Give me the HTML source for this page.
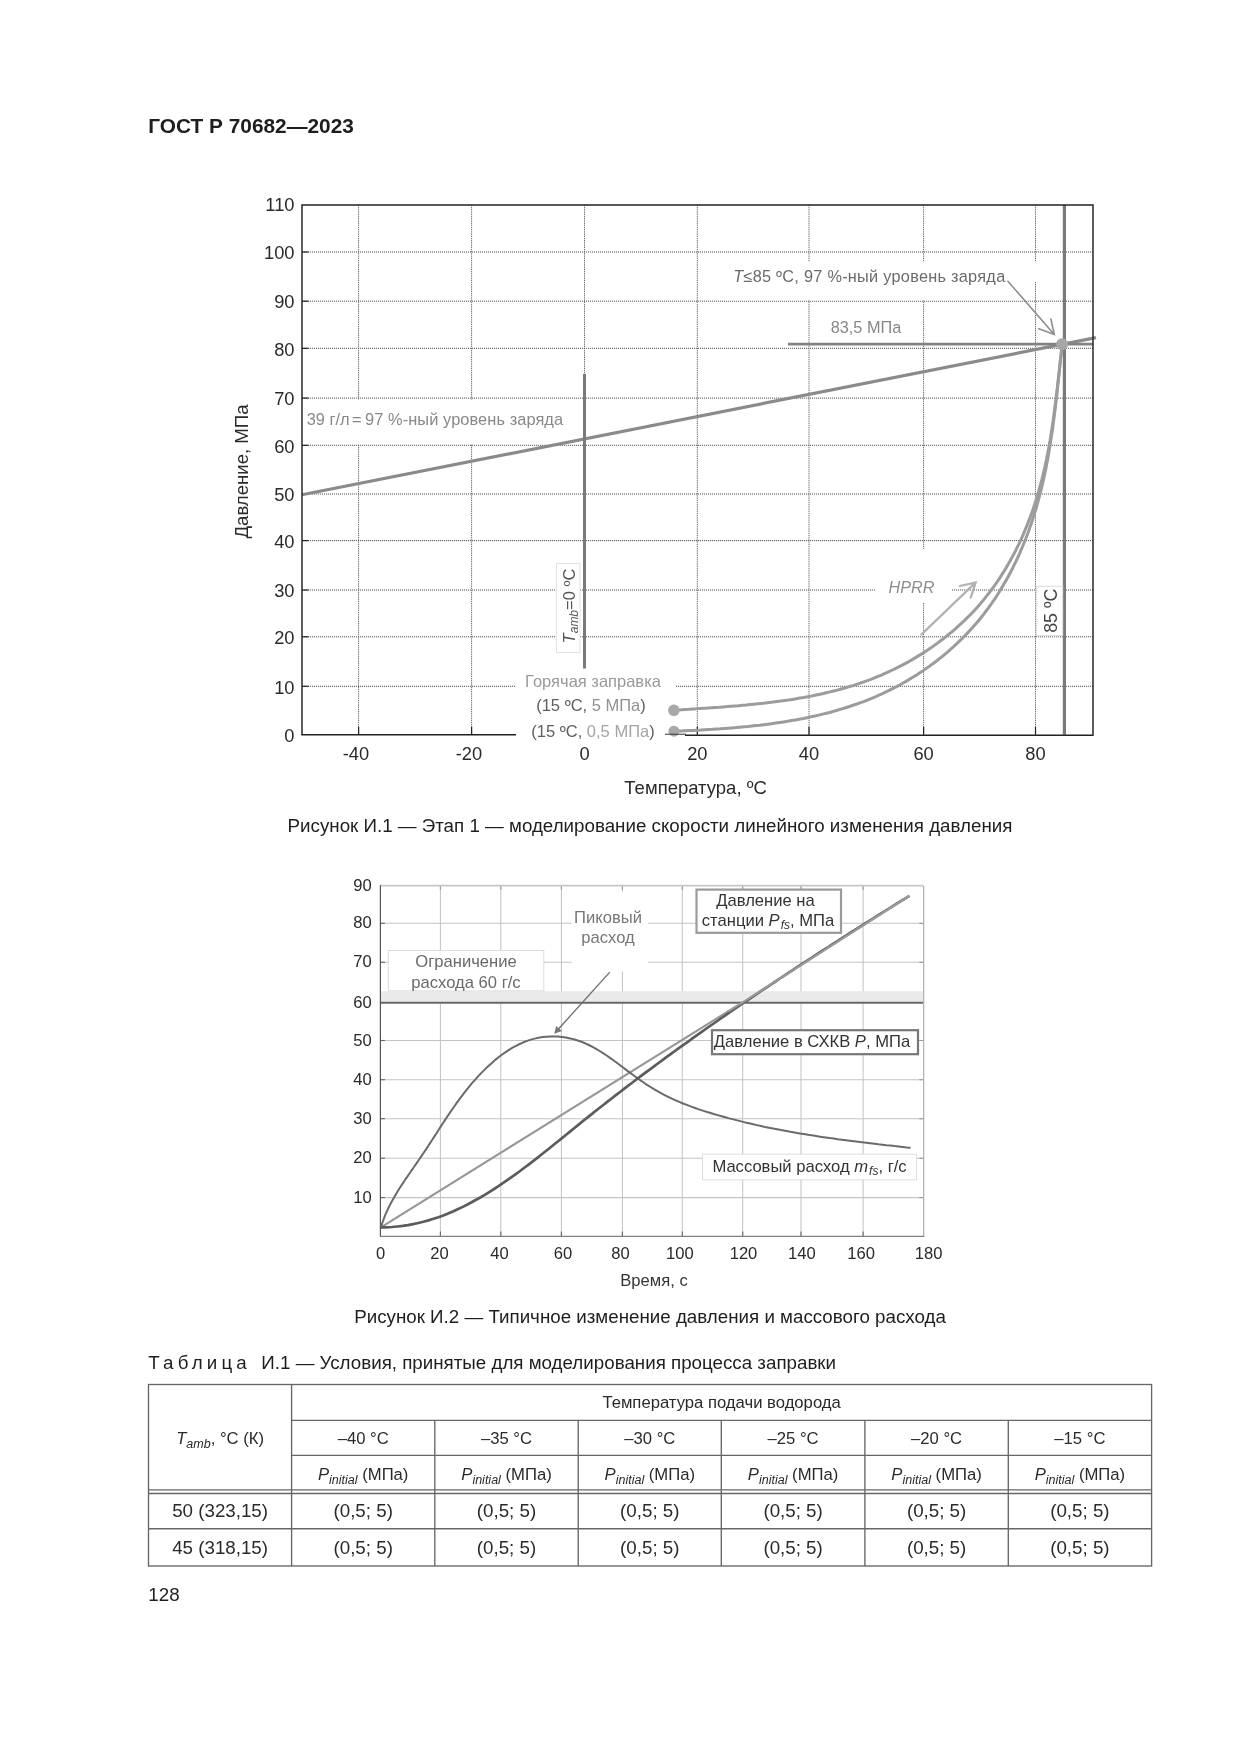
<!DOCTYPE html>
<html lang="ru">
<head>
<meta charset="utf-8">
<title>ГОСТ Р 70682—2023</title>
<style>
html,body{margin:0;padding:0;background:#fff;}
body{width:1241px;height:1754px;overflow:hidden;font-family:"Liberation Sans",sans-serif;}
svg{display:block;filter:grayscale(1);}
text{white-space:pre;}
</style>
</head>
<body>
<svg width="1241" height="1754" viewBox="0 0 1241 1754">
<rect width="1241" height="1754" fill="#fff"/>
<g id="chart1">
<g stroke="#505050" stroke-width="1" stroke-dasharray="1.1,0.9" fill="none">
<line x1="302.0" y1="252.0" x2="1093.0" y2="252.0"/>
<line x1="302.0" y1="301.2" x2="1093.0" y2="301.2"/>
<line x1="302.0" y1="348.3" x2="1093.0" y2="348.3"/>
<line x1="302.0" y1="398.1" x2="1093.0" y2="398.1"/>
<line x1="302.0" y1="445.3" x2="1093.0" y2="445.3"/>
<line x1="302.0" y1="494.0" x2="1093.0" y2="494.0"/>
<line x1="302.0" y1="540.6" x2="1093.0" y2="540.6"/>
<line x1="302.0" y1="590.0" x2="1093.0" y2="590.0"/>
<line x1="302.0" y1="636.8" x2="1093.0" y2="636.8"/>
<line x1="302.0" y1="686.3" x2="1093.0" y2="686.3"/>
</g>
<g stroke="#666" stroke-width="1" stroke-dasharray="1.3,0.9" fill="none">
<line x1="358.6" y1="204.9" x2="358.6" y2="734.8"/>
<line x1="471.6" y1="204.9" x2="471.6" y2="734.8"/>
<line x1="584.5" y1="204.9" x2="584.5" y2="734.8"/>
<line x1="697.3" y1="204.9" x2="697.3" y2="734.8"/>
<line x1="809.0" y1="204.9" x2="809.0" y2="734.8"/>
<line x1="923.6" y1="204.9" x2="923.6" y2="734.8"/>
<line x1="1035.5" y1="204.9" x2="1035.5" y2="734.8"/>
</g>
<g fill="#fff">
<rect x="725" y="262" width="305" height="38.3"/>
<rect x="1029" y="262" width="11" height="19.5"/>
<rect x="303.5" y="399.6" width="264" height="44.4"/>
<rect x="876" y="549" width="76" height="54"/>
<rect x="516" y="668" width="150" height="74"/>
<rect x="516" y="676" width="160" height="20"/>
</g>
<g stroke="#222" stroke-width="1.2">
<line x1="302.0" y1="252.0" x2="308.5" y2="252.0"/>
<line x1="302.0" y1="301.2" x2="308.5" y2="301.2"/>
<line x1="302.0" y1="348.3" x2="308.5" y2="348.3"/>
<line x1="302.0" y1="398.1" x2="308.5" y2="398.1"/>
<line x1="302.0" y1="445.3" x2="308.5" y2="445.3"/>
<line x1="302.0" y1="494.0" x2="308.5" y2="494.0"/>
<line x1="302.0" y1="540.6" x2="308.5" y2="540.6"/>
<line x1="302.0" y1="590.0" x2="308.5" y2="590.0"/>
<line x1="302.0" y1="636.8" x2="308.5" y2="636.8"/>
<line x1="302.0" y1="686.3" x2="308.5" y2="686.3"/>
<line x1="358.6" y1="734.8" x2="358.6" y2="726.8"/>
<line x1="471.6" y1="734.8" x2="471.6" y2="726.8"/>
<line x1="697.3" y1="734.8" x2="697.3" y2="726.8"/>
<line x1="809.0" y1="734.8" x2="809.0" y2="726.8"/>
<line x1="923.6" y1="734.8" x2="923.6" y2="726.8"/>
<line x1="1035.5" y1="734.8" x2="1035.5" y2="726.8"/>
</g>
<line x1="302" y1="494.8" x2="1096" y2="337.6" stroke="#8a8a8a" stroke-width="3.2"/>
<line x1="788" y1="344.1" x2="1093" y2="344.1" stroke="#828282" stroke-width="2.7"/>
<line x1="584.5" y1="374" x2="584.5" y2="668.5" stroke="#7a7a7a" stroke-width="3"/>
<line x1="1064.4" y1="204.9" x2="1064.4" y2="734.8" stroke="#7a7a7a" stroke-width="3.2"/>
<path d="M673.9,710.3 L677.7,710.0 L681.4,709.8 L685.2,709.5 L689.0,709.3 L692.7,709.0 L696.5,708.8 L700.3,708.5 L704.1,708.2 L708.0,708.0 L711.8,707.7 L715.6,707.4 L719.4,707.2 L723.2,706.9 L727.1,706.6 L730.9,706.3 L734.8,706.0 L738.6,705.7 L742.4,705.3 L746.3,705.0 L750.1,704.6 L754.0,704.2 L757.8,703.8 L761.6,703.4 L765.5,703.0 L769.3,702.5 L773.2,702.1 L777.0,701.6 L780.8,701.1 L784.6,700.5 L788.5,700.0 L792.3,699.4 L796.1,698.8 L799.9,698.1 L803.7,697.5 L807.5,696.8 L811.2,696.1 L815.0,695.3 L818.8,694.5 L822.5,693.7 L826.3,692.8 L830.0,691.9 L833.7,691.0 L837.4,690.1 L841.1,689.0 L844.8,688.0 L848.5,686.9 L852.2,685.8 L855.8,684.6 L859.5,683.4 L863.1,682.2 L866.7,680.9 L870.3,679.6 L873.8,678.2 L877.4,676.7 L880.9,675.3 L884.4,673.7 L887.9,672.2 L891.4,670.5 L894.9,668.9 L898.3,667.2 L901.7,665.4 L905.1,663.6 L908.5,661.8 L911.8,659.9 L915.1,657.9 L918.4,655.9 L921.7,653.9 L924.9,651.8 L928.1,649.7 L931.3,647.6 L934.4,645.4 L937.5,643.1 L940.6,640.8 L943.6,638.5 L946.6,636.1 L949.6,633.7 L952.5,631.3 L955.4,628.8 L958.3,626.2 L961.1,623.7 L963.9,621.0 L966.6,618.4 L969.3,615.7 L972.0,613.0 L974.6,610.2 L977.1,607.4 L979.7,604.5 L982.1,601.6 L984.6,598.7 L986.9,595.7 L989.3,592.7 L991.6,589.6 L993.8,586.6 L996.0,583.5 L998.2,580.3 L1000.3,577.1 L1002.3,573.9 L1004.4,570.7 L1006.3,567.4 L1008.3,564.1 L1010.2,560.8 L1012.0,557.4 L1013.8,554.1 L1015.6,550.7 L1017.3,547.2 L1019.0,543.8 L1020.6,540.3 L1022.2,536.8 L1023.7,533.3 L1025.2,529.7 L1026.7,526.2 L1028.1,522.6 L1029.5,519.0 L1030.9,515.4 L1032.2,511.8 L1033.4,508.1 L1034.6,504.5 L1035.8,500.8 L1037.0,497.1 L1038.1,493.4 L1039.1,489.7 L1040.1,486.0 L1041.1,482.3 L1042.1,478.6 L1043.0,474.8 L1043.9,471.1 L1044.8,467.3 L1045.6,463.5 L1046.4,459.8 L1047.1,456.0 L1047.9,452.2 L1048.6,448.4 L1049.3,444.6 L1050.0,440.8 L1050.6,437.0 L1051.2,433.2 L1051.8,429.4 L1052.4,425.6 L1053.0,421.8 L1053.5,418.0 L1054.0,414.2 L1054.5,410.3 L1055.0,406.5 L1055.5,402.7 L1056.0,398.9 L1056.5,395.1 L1056.9,391.3 L1057.4,387.5 L1057.8,383.7 L1058.2,379.9 L1058.7,376.1 L1059.1,372.3 L1059.5,368.5 L1059.9,364.8 L1060.3,361.0 L1060.7,357.2 L1061.2,353.5 L1061.6,349.7 L1062.0,346.0" fill="none" stroke="#9c9c9c" stroke-width="3" stroke-linejoin="round"/>
<path d="M673.9,731.2 L677.7,731.0 L681.5,730.9 L685.3,730.7 L689.2,730.5 L693.0,730.4 L696.9,730.2 L700.8,730.0 L704.7,729.7 L708.6,729.5 L712.5,729.3 L716.4,729.0 L720.3,728.8 L724.3,728.5 L728.2,728.2 L732.1,727.9 L736.1,727.6 L740.0,727.2 L744.0,726.8 L747.9,726.5 L751.9,726.0 L755.9,725.6 L759.8,725.2 L763.8,724.7 L767.8,724.2 L771.7,723.7 L775.7,723.1 L779.6,722.5 L783.6,721.9 L787.5,721.3 L791.4,720.6 L795.4,719.9 L799.3,719.2 L803.2,718.5 L807.1,717.7 L811.0,716.8 L814.9,716.0 L818.8,715.1 L822.7,714.1 L826.5,713.2 L830.4,712.2 L834.2,711.1 L838.0,710.0 L841.8,708.9 L845.6,707.7 L849.4,706.5 L853.1,705.3 L856.9,704.0 L860.6,702.6 L864.3,701.3 L868.0,699.8 L871.6,698.3 L875.3,696.8 L878.9,695.2 L882.5,693.6 L886.0,691.9 L889.6,690.2 L893.1,688.4 L896.6,686.6 L900.1,684.7 L903.5,682.8 L906.9,680.9 L910.3,678.8 L913.6,676.8 L917.0,674.7 L920.2,672.6 L923.5,670.4 L926.7,668.1 L929.9,665.9 L933.1,663.5 L936.2,661.2 L939.3,658.8 L942.4,656.3 L945.4,653.8 L948.4,651.3 L951.3,648.7 L954.2,646.1 L957.1,643.4 L959.9,640.7 L962.7,638.0 L965.4,635.2 L968.1,632.4 L970.8,629.5 L973.4,626.6 L975.9,623.7 L978.5,620.7 L980.9,617.7 L983.4,614.6 L985.7,611.5 L988.1,608.4 L990.4,605.2 L992.6,602.0 L994.8,598.8 L997.0,595.5 L999.1,592.2 L1001.1,588.9 L1003.1,585.5 L1005.1,582.1 L1007.0,578.7 L1008.9,575.2 L1010.8,571.7 L1012.6,568.2 L1014.3,564.7 L1016.1,561.1 L1017.7,557.6 L1019.4,554.0 L1020.9,550.3 L1022.5,546.7 L1024.0,543.0 L1025.5,539.4 L1026.9,535.7 L1028.3,531.9 L1029.6,528.2 L1030.9,524.5 L1032.2,520.7 L1033.4,516.9 L1034.6,513.1 L1035.8,509.3 L1036.9,505.5 L1038.0,501.7 L1039.0,497.9 L1040.0,494.0 L1041.0,490.2 L1041.9,486.3 L1042.9,482.5 L1043.7,478.6 L1044.6,474.7 L1045.4,470.8 L1046.2,466.9 L1046.9,463.1 L1047.7,459.2 L1048.4,455.3 L1049.0,451.3 L1049.7,447.4 L1050.3,443.5 L1050.9,439.6 L1051.5,435.7 L1052.1,431.8 L1052.7,427.9 L1053.2,423.9 L1053.7,420.0 L1054.2,416.1 L1054.7,412.2 L1055.2,408.3 L1055.7,404.3 L1056.1,400.4 L1056.6,396.5 L1057.0,392.6 L1057.4,388.7 L1057.9,384.8 L1058.3,380.9 L1058.7,377.0 L1059.1,373.1 L1059.5,369.2 L1059.9,365.3 L1060.3,361.4 L1060.8,357.6 L1061.2,353.7 L1061.6,349.8 L1062.0,346.0" fill="none" stroke="#9c9c9c" stroke-width="3" stroke-linejoin="round"/>
<circle cx="673.9" cy="710.3" r="5.8" fill="#a8a8a8"/>
<circle cx="673.9" cy="731.2" r="5.5" fill="#a8a8a8"/>
<circle cx="1062.1" cy="344.2" r="6" fill="#a6a6a6"/>
<line x1="665" y1="734.2" x2="686" y2="734.2" stroke="#333" stroke-width="1"/>
<path d="M302.0,734.8 V204.9 H1093.0 V734.8" fill="none" stroke="#222" stroke-width="1.45"/>
<path d="M301.3,734.8 H516 M685,735.1999999999999 H1093.7" fill="none" stroke="#222" stroke-width="1.45"/>
<g stroke="#8e8e8e" stroke-width="1.6" fill="none" stroke-linecap="round">
<path d="M1007.9,281.3 L1054.3,334.5 M1038.8,328.7 L1054.3,334.5 L1050.9,319"/>
</g>
<g stroke="#b2b2b2" stroke-width="2.2" fill="none" stroke-linecap="round">
<path d="M921.3,634.6 L975.7,582.4 M959.8,586 L975.7,582.4 L970.7,597.6"/>
</g>
<rect x="556.5" y="563.5" width="23.5" height="89" fill="#fff" stroke="#e2e2e2" stroke-width="1"/>
<rect x="1036.2" y="586.3" width="26.5" height="49.4" fill="#fff" stroke="#dadada" stroke-width="1"/>
<g style="font-family:'Liberation Sans',sans-serif" fill="#2a2a2a" font-size="18.3">
<text x="294.5" y="259.2" text-anchor="end">100</text>
<text x="294.5" y="308.4" text-anchor="end">90</text>
<text x="294.5" y="355.5" text-anchor="end">80</text>
<text x="294.5" y="405.3" text-anchor="end">70</text>
<text x="294.5" y="452.5" text-anchor="end">60</text>
<text x="294.5" y="501.2" text-anchor="end">50</text>
<text x="294.5" y="547.8" text-anchor="end">40</text>
<text x="294.5" y="597.2" text-anchor="end">30</text>
<text x="294.5" y="644.0" text-anchor="end">20</text>
<text x="294.5" y="693.5" text-anchor="end">10</text>
<text x="294.5" y="210.9" text-anchor="end">110</text>
<text x="294.5" y="742.0" text-anchor="end">0</text>
<text x="369.2" y="760" text-anchor="end">-40</text>
<text x="482.2" y="760" text-anchor="end">-20</text>
<text x="584.5" y="760" text-anchor="middle">0</text>
<text x="697.3" y="760" text-anchor="middle">20</text>
<text x="809.0" y="760" text-anchor="middle">40</text>
<text x="923.6" y="760" text-anchor="middle">60</text>
<text x="1035.5" y="760" text-anchor="middle">80</text>
<text x="695.6" y="793.6" text-anchor="middle" font-size="18.5">Температура, ºC</text>
<text transform="translate(248.4,471.5) rotate(-90)" text-anchor="middle" font-size="18.6">Давление, МПа</text>
</g>
<g style="font-family:'Liberation Sans',sans-serif" font-size="16.3">
<text x="306.7" y="425.3" fill="#888" font-size="16.4">39 г/л<tspan dx="-2.2"> = </tspan><tspan dx="-1" letter-spacing="0.07">97 %-ный уровень заряда</tspan></text>
<text x="733.2" y="282" fill="#6a6a6a" textLength="272" lengthAdjust="spacing"><tspan font-style="italic">T</tspan>≤85 ºC, 97 %-ный уровень заряда</text>
<text x="866" y="333.2" fill="#888" text-anchor="middle">83,5 МПа</text>
<text x="593" y="686.7" fill="#9a9a9a" text-anchor="middle" font-size="16.5">Горячая заправка</text>
<text x="591" y="711.3" fill="#5e5e5e" text-anchor="middle" font-size="16.5">(15 ºC, <tspan fill="#919191">5 МПа</tspan>)</text>
<text x="593" y="736.8" fill="#5e5e5e" text-anchor="middle" font-size="16.5">(15 ºC, <tspan fill="#a4a4a4">0,5 МПа</tspan>)</text>
<text x="888.5" y="592.7" fill="#8c8c8c" font-style="italic" font-size="16.2">HPRR</text>
<text transform="translate(575,606) rotate(-90)" text-anchor="middle" fill="#555" font-size="16.5"><tspan font-style="italic">T</tspan><tspan font-style="italic" font-size="12" dy="3">amb</tspan><tspan dy="-3">=0 ºC</tspan></text>
<text transform="translate(1057,610.7) rotate(-90)" text-anchor="middle" fill="#444" font-size="18.4" textLength="44.3" lengthAdjust="spacingAndGlyphs">85 ºC</text>
</g>
</g>
<g id="chart2">
<g stroke="#c4c4c4" stroke-width="1.05" fill="none">
<line x1="380.0" y1="1197.6" x2="923.3" y2="1197.6"/>
<line x1="380.0" y1="1158.2" x2="923.3" y2="1158.2"/>
<line x1="380.0" y1="1118.7" x2="923.3" y2="1118.7"/>
<line x1="380.0" y1="1079.7" x2="923.3" y2="1079.7"/>
<line x1="380.0" y1="1040.5" x2="923.3" y2="1040.5"/>
<line x1="380.0" y1="1002.5" x2="923.3" y2="1002.5"/>
<line x1="380.0" y1="962.3" x2="923.3" y2="962.3"/>
<line x1="380.0" y1="923.3" x2="923.3" y2="923.3"/>
<line x1="440.4" y1="885.7" x2="440.4" y2="1236.4"/>
<line x1="500.8" y1="885.7" x2="500.8" y2="1236.4"/>
<line x1="561.4" y1="885.7" x2="561.4" y2="1236.4"/>
<line x1="622.4" y1="885.7" x2="622.4" y2="1236.4"/>
<line x1="682.3" y1="885.7" x2="682.3" y2="1236.4"/>
<line x1="742.7" y1="885.7" x2="742.7" y2="1236.4"/>
<line x1="801.0" y1="885.7" x2="801.0" y2="1236.4"/>
<line x1="863.1" y1="885.7" x2="863.1" y2="1236.4"/>
</g>
<g stroke="#666" stroke-width="1.1">
<line x1="380.0" y1="1197.6" x2="385.0" y2="1197.6"/>
<line x1="923.3" y1="1197.6" x2="919.3" y2="1197.6" stroke="#999"/>
<line x1="380.0" y1="1158.2" x2="385.0" y2="1158.2"/>
<line x1="923.3" y1="1158.2" x2="919.3" y2="1158.2" stroke="#999"/>
<line x1="380.0" y1="1118.7" x2="385.0" y2="1118.7"/>
<line x1="923.3" y1="1118.7" x2="919.3" y2="1118.7" stroke="#999"/>
<line x1="380.0" y1="1079.7" x2="385.0" y2="1079.7"/>
<line x1="923.3" y1="1079.7" x2="919.3" y2="1079.7" stroke="#999"/>
<line x1="380.0" y1="1040.5" x2="385.0" y2="1040.5"/>
<line x1="923.3" y1="1040.5" x2="919.3" y2="1040.5" stroke="#999"/>
<line x1="380.0" y1="1002.5" x2="385.0" y2="1002.5"/>
<line x1="923.3" y1="1002.5" x2="919.3" y2="1002.5" stroke="#999"/>
<line x1="380.0" y1="962.3" x2="385.0" y2="962.3"/>
<line x1="923.3" y1="962.3" x2="919.3" y2="962.3" stroke="#999"/>
<line x1="380.0" y1="923.3" x2="385.0" y2="923.3"/>
<line x1="923.3" y1="923.3" x2="919.3" y2="923.3" stroke="#999"/>
<line x1="440.4" y1="1236.4" x2="440.4" y2="1231.4"/>
<line x1="440.4" y1="885.7" x2="440.4" y2="889.7" stroke="#999"/>
<line x1="500.8" y1="1236.4" x2="500.8" y2="1231.4"/>
<line x1="500.8" y1="885.7" x2="500.8" y2="889.7" stroke="#999"/>
<line x1="561.4" y1="1236.4" x2="561.4" y2="1231.4"/>
<line x1="561.4" y1="885.7" x2="561.4" y2="889.7" stroke="#999"/>
<line x1="622.4" y1="1236.4" x2="622.4" y2="1231.4"/>
<line x1="622.4" y1="885.7" x2="622.4" y2="889.7" stroke="#999"/>
<line x1="682.3" y1="1236.4" x2="682.3" y2="1231.4"/>
<line x1="682.3" y1="885.7" x2="682.3" y2="889.7" stroke="#999"/>
<line x1="742.7" y1="1236.4" x2="742.7" y2="1231.4"/>
<line x1="742.7" y1="885.7" x2="742.7" y2="889.7" stroke="#999"/>
<line x1="801.0" y1="1236.4" x2="801.0" y2="1231.4"/>
<line x1="801.0" y1="885.7" x2="801.0" y2="889.7" stroke="#999"/>
<line x1="863.1" y1="1236.4" x2="863.1" y2="1231.4"/>
<line x1="863.1" y1="885.7" x2="863.1" y2="889.7" stroke="#999"/>
</g>
<rect x="380.0" y="991.2" width="543.3" height="11" fill="#eaeaea"/>
<line x1="380.0" y1="1002.8" x2="923.3" y2="1002.8" stroke="#686868" stroke-width="2"/>
<line x1="380.0" y1="885.7" x2="923.3" y2="885.7" stroke="#c6c6c6" stroke-width="1.8"/>
<line x1="923.6999999999999" y1="885.7" x2="923.6999999999999" y2="1236.4" stroke="#a8a8a8" stroke-width="1.1"/>
<line x1="380.4" y1="885.2" x2="380.4" y2="1236.9" stroke="#555" stroke-width="1.2"/>
<line x1="380.0" y1="1236.4" x2="924.3" y2="1236.4" stroke="#808080" stroke-width="1.3"/>
<rect x="388.3" y="950.5" width="155.5" height="40.4" fill="#fff" stroke="#dcdcdc" stroke-width="1"/>
<rect x="571.6" y="892" width="76.4" height="79.5" fill="#fff"/>
<path d="M380.9,1227.4 L742.7,1002.3" fill="none" stroke="#969696" stroke-width="2.1"/>
<path d="M380.9,1227.4 L382.1,1223.5 L383.5,1219.7 L384.9,1215.9 L386.5,1212.2 L388.2,1208.5 L390.0,1204.9 L391.9,1201.3 L393.9,1197.8 L395.9,1194.2 L398.0,1190.8 L400.2,1187.3 L402.4,1183.9 L404.7,1180.5 L407.0,1177.1 L409.3,1173.7 L411.6,1170.3 L414.0,1167.0 L416.3,1163.6 L418.6,1160.3 L420.9,1156.9 L423.2,1153.5 L425.5,1150.1 L427.7,1146.8 L429.9,1143.4 L432.1,1140.0 L434.3,1136.6 L436.5,1133.2 L438.7,1129.8 L440.9,1126.4 L443.1,1123.0 L445.3,1119.6 L447.5,1116.2 L449.8,1112.9 L452.1,1109.5 L454.4,1106.2 L456.7,1102.9 L459.1,1099.6 L461.6,1096.3 L464.0,1093.1 L466.6,1089.8 L469.2,1086.6 L471.8,1083.4 L474.6,1080.3 L477.4,1077.2 L480.2,1074.1 L483.2,1071.1 L486.2,1068.1 L489.3,1065.2 L492.4,1062.4 L495.6,1059.6 L498.9,1057.0 L502.2,1054.5 L505.6,1052.1 L509.0,1049.8 L512.5,1047.7 L516.1,1045.8 L519.7,1044.0 L523.4,1042.3 L527.1,1040.9 L530.8,1039.6 L534.6,1038.6 L538.5,1037.7 L542.4,1037.1 L546.3,1036.7 L550.3,1036.5 L554.2,1036.5 L558.2,1036.6 L562.1,1037.0 L566.0,1037.6 L570.0,1038.4 L573.8,1039.3 L577.7,1040.5 L581.5,1041.8 L585.2,1043.3 L588.9,1045.0 L592.5,1046.9 L596.1,1048.9 L599.6,1051.0 L603.1,1053.2 L606.6,1055.5 L610.0,1057.9 L613.4,1060.3 L616.8,1062.8 L620.1,1065.3 L623.5,1067.8 L626.8,1070.4 L630.2,1072.9 L633.5,1075.3 L636.9,1077.8 L640.2,1080.2 L643.6,1082.5 L647.0,1084.8 L650.5,1087.0 L654.0,1089.2 L657.5,1091.2 L661.0,1093.2 L664.6,1095.1 L668.2,1096.9 L671.9,1098.7 L675.6,1100.3 L679.3,1101.9 L683.0,1103.5 L686.8,1104.9 L690.6,1106.4 L694.4,1107.7 L698.2,1109.1 L702.0,1110.4 L705.9,1111.6 L709.8,1112.8 L713.7,1114.0 L717.6,1115.1 L721.5,1116.2 L725.4,1117.3 L729.3,1118.4 L733.3,1119.4 L737.2,1120.4 L741.2,1121.4 L745.1,1122.4 L749.1,1123.3 L753.1,1124.2 L757.0,1125.1 L761.0,1126.0 L765.0,1126.9 L769.0,1127.7 L773.1,1128.5 L777.1,1129.3 L781.1,1130.1 L785.1,1130.8 L789.1,1131.6 L793.2,1132.3 L797.2,1133.0 L801.3,1133.7 L805.3,1134.3 L809.4,1135.0 L813.4,1135.6 L817.5,1136.3 L821.5,1136.9 L825.6,1137.5 L829.6,1138.1 L833.7,1138.6 L837.7,1139.2 L841.8,1139.7 L845.9,1140.3 L849.9,1140.8 L854.0,1141.3 L858.0,1141.8 L862.1,1142.3 L866.2,1142.8 L870.2,1143.3 L874.3,1143.8 L878.3,1144.3 L882.4,1144.7 L886.4,1145.2 L890.5,1145.6 L894.5,1146.1 L898.5,1146.5 L902.6,1146.9 L906.6,1147.4 L910.6,1147.8" fill="none" stroke="#6a6a6a" stroke-width="2" stroke-linejoin="round"/>
<path d="M380.9,1227.4 L386.4,1227.3 L391.9,1227.0 L397.3,1226.5 L402.7,1225.9 L408.0,1225.1 L413.2,1224.1 L418.3,1223.0 L423.4,1221.8 L428.5,1220.4 L433.5,1218.8 L438.4,1217.2 L443.3,1215.4 L448.1,1213.5 L452.9,1211.5 L457.6,1209.3 L462.3,1207.1 L467.0,1204.8 L471.6,1202.3 L476.1,1199.8 L480.7,1197.2 L485.2,1194.6 L489.6,1191.8 L494.1,1189.0 L498.5,1186.1 L502.8,1183.2 L507.2,1180.2 L511.5,1177.2 L515.8,1174.1 L520.1,1171.0 L524.3,1167.8 L528.6,1164.6 L532.8,1161.4 L537.0,1158.1 L541.2,1154.8 L545.3,1151.5 L549.5,1148.2 L553.7,1144.8 L557.8,1141.5 L562.0,1138.1 L566.1,1134.7 L570.3,1131.4 L574.4,1128.0 L578.6,1124.6 L582.7,1121.3 L586.9,1117.9 L591.1,1114.6 L595.2,1111.3 L599.4,1108.0 L603.6,1104.7 L607.8,1101.4 L612.0,1098.2 L616.2,1094.9 L620.4,1091.7 L624.6,1088.4 L628.8,1085.2 L633.1,1082.0 L637.3,1078.8 L641.5,1075.6 L645.8,1072.4 L650.0,1069.3 L654.3,1066.1 L658.5,1063.0 L662.8,1059.9 L667.1,1056.7 L671.3,1053.6 L675.6,1050.5 L679.9,1047.4 L684.2,1044.3 L688.5,1041.3 L692.8,1038.2 L697.1,1035.1 L701.4,1032.1 L705.7,1029.0 L710.0,1026.0 L714.4,1023.0 L718.7,1020.0 L723.0,1017.0 L727.4,1014.0 L731.7,1011.0 L736.1,1008.0 L740.4,1005.0 L744.8,1002.0 L749.2,999.1 L753.5,996.1 L757.9,993.2 L762.3,990.2 L766.7,987.3 L771.1,984.4 L775.5,981.5 L779.9,978.5 L784.3,975.6 L788.7,972.7 L793.1,969.8 L797.5,966.9 L801.9,964.0 L806.4,961.1 L810.8,958.3 L815.2,955.4 L819.7,952.5 L824.1,949.6 L828.6,946.8 L833.0,943.9 L837.5,941.1 L842.0,938.2 L846.4,935.4 L850.9,932.5 L855.4,929.7 L859.9,926.9 L864.4,924.0 L868.9,921.2 L873.4,918.4 L877.9,915.5 L882.4,912.7 L886.9,909.9 L891.4,907.1 L895.9,904.2 L900.4,901.4 L905.0,898.6 L909.5,895.8" fill="none" stroke="#5c5c5c" stroke-width="2.7" stroke-linejoin="round"/>
<path d="M728,1011.6 L742.7,1002.4 L909.5,895.8" fill="none" stroke="#9a9a9a" stroke-width="2.2"/>
<rect x="696.5" y="889.6" width="144.5" height="43.2" fill="#fff" stroke="#9a9a9a" stroke-width="2.2"/>
<rect x="712" y="1030.2" width="206" height="24" fill="#fff" stroke="#777" stroke-width="2.2"/>
<rect x="702.5" y="1154.2" width="214" height="25.6" fill="#fff" stroke="#dedede" stroke-width="1"/>
<line x1="609.8" y1="972.1" x2="558" y2="1029.5" stroke="#6c6c6c" stroke-width="1.3"/>
<path d="M554.2,1033.8 L556.2,1025.9 L562,1031 Z" fill="#787878"/>
<g style="font-family:'Liberation Sans',sans-serif" fill="#2a2a2a" font-size="16.6">
<text x="371.8" y="1202.7" text-anchor="end">10</text>
<text x="371.8" y="1163.3" text-anchor="end">20</text>
<text x="371.8" y="1123.8" text-anchor="end">30</text>
<text x="371.8" y="1084.8" text-anchor="end">40</text>
<text x="371.8" y="1045.6" text-anchor="end">50</text>
<text x="371.8" y="1007.6" text-anchor="end">60</text>
<text x="371.8" y="967.4" text-anchor="end">70</text>
<text x="371.8" y="928.4" text-anchor="end">80</text>
<text x="371.8" y="890.8" text-anchor="end">90</text>
<text x="380.7" y="1259.2" text-anchor="middle">0</text>
<text x="439.5" y="1259.2" text-anchor="middle">20</text>
<text x="499.5" y="1259.2" text-anchor="middle">40</text>
<text x="563.0" y="1259.2" text-anchor="middle">60</text>
<text x="620.6" y="1259.2" text-anchor="middle">80</text>
<text x="679.8" y="1259.2" text-anchor="middle">100</text>
<text x="743.5" y="1259.2" text-anchor="middle">120</text>
<text x="801.9" y="1259.2" text-anchor="middle">140</text>
<text x="861.2" y="1259.2" text-anchor="middle">160</text>
<text x="928.6" y="1259.2" text-anchor="middle">180</text>
<text x="654" y="1285.6" text-anchor="middle" fill="#333">Время, с</text>
<text x="466" y="967.4" text-anchor="middle" fill="#6a6a6a">Ограничение</text>
<text x="466" y="988" text-anchor="middle" fill="#6a6a6a">расхода 60 г/с</text>
<text x="608" y="922.5" text-anchor="middle" fill="#777">Пиковый</text>
<text x="608" y="943.3" text-anchor="middle" fill="#777">расход</text>
<text x="765.5" y="906.3" text-anchor="middle" fill="#333">Давление на</text>
<text x="768" y="925.8" text-anchor="middle" fill="#333">станции <tspan font-style="italic">P</tspan><tspan font-style="italic" font-size="12" dy="3" dx="1">fs</tspan><tspan dy="-3">, МПа</tspan></text>
<text x="812" y="1047" text-anchor="middle" fill="#333">Давление в СХКВ <tspan font-style="italic">P</tspan>, МПа</text>
<text x="809.5" y="1172" text-anchor="middle" fill="#333">Массовый расход <tspan font-style="italic">m</tspan><tspan font-style="italic" font-size="12" dy="3" dx="1">fs</tspan><tspan dy="-3">, г/с</tspan></text>
</g>
</g>
<g id="table">
<g stroke="#666" stroke-width="1.35" fill="none">
<rect x="148.5" y="1384.5" width="1003.0999999999999" height="181.5"/>
<line x1="291.6" y1="1420.3" x2="1151.6" y2="1420.3"/>
<line x1="291.6" y1="1455.4" x2="1151.6" y2="1455.4"/>
<line x1="148.5" y1="1489.9" x2="1151.6" y2="1489.9"/>
<line x1="148.5" y1="1493.5" x2="1151.6" y2="1493.5"/>
<line x1="148.5" y1="1528.7" x2="1151.6" y2="1528.7"/>
<line x1="291.6" y1="1384.5" x2="291.6" y2="1566"/>
<line x1="434.8" y1="1420.3" x2="434.8" y2="1566"/>
<line x1="578.2" y1="1420.3" x2="578.2" y2="1566"/>
<line x1="721.3" y1="1420.3" x2="721.3" y2="1566"/>
<line x1="864.9" y1="1420.3" x2="864.9" y2="1566"/>
<line x1="1008.3" y1="1420.3" x2="1008.3" y2="1566"/>
</g>
<g style="font-family:'Liberation Sans',sans-serif" fill="#2a2a2a" font-size="16.67" text-anchor="middle">
<text x="721.6" y="1408.3">Температура подачи водорода</text>
<text x="220.1" y="1444"><tspan font-style="italic">T</tspan><tspan font-style="italic" font-size="12.5" dy="3.5">amb</tspan><tspan dy="-3.5">, °С (К)</tspan></text>
<text x="363.2" y="1444.2">–40 °С</text>
<text x="363.2" y="1480.3"><tspan font-style="italic">P</tspan><tspan font-style="italic" font-size="12.5" dy="3.5">initial</tspan><tspan dy="-3.5"> (МПа)</tspan></text>
<text x="506.5" y="1444.2">–35 °С</text>
<text x="506.5" y="1480.3"><tspan font-style="italic">P</tspan><tspan font-style="italic" font-size="12.5" dy="3.5">initial</tspan><tspan dy="-3.5"> (МПа)</tspan></text>
<text x="649.8" y="1444.2">–30 °С</text>
<text x="649.8" y="1480.3"><tspan font-style="italic">P</tspan><tspan font-style="italic" font-size="12.5" dy="3.5">initial</tspan><tspan dy="-3.5"> (МПа)</tspan></text>
<text x="793.1" y="1444.2">–25 °С</text>
<text x="793.1" y="1480.3"><tspan font-style="italic">P</tspan><tspan font-style="italic" font-size="12.5" dy="3.5">initial</tspan><tspan dy="-3.5"> (МПа)</tspan></text>
<text x="936.6" y="1444.2">–20 °С</text>
<text x="936.6" y="1480.3"><tspan font-style="italic">P</tspan><tspan font-style="italic" font-size="12.5" dy="3.5">initial</tspan><tspan dy="-3.5"> (МПа)</tspan></text>
<text x="1079.9" y="1444.2">–15 °С</text>
<text x="1079.9" y="1480.3"><tspan font-style="italic">P</tspan><tspan font-style="italic" font-size="12.5" dy="3.5">initial</tspan><tspan dy="-3.5"> (МПа)</tspan></text>
</g>
<g style="font-family:'Liberation Sans',sans-serif" fill="#2a2a2a" font-size="18.75" text-anchor="middle">
<text x="220.1" y="1516.6">50 (323,15)</text>
<text x="363.2" y="1516.6">(0,5; 5)</text>
<text x="506.5" y="1516.6">(0,5; 5)</text>
<text x="649.8" y="1516.6">(0,5; 5)</text>
<text x="793.1" y="1516.6">(0,5; 5)</text>
<text x="936.6" y="1516.6">(0,5; 5)</text>
<text x="1079.9" y="1516.6">(0,5; 5)</text>
<text x="220.1" y="1553.5">45 (318,15)</text>
<text x="363.2" y="1553.5">(0,5; 5)</text>
<text x="506.5" y="1553.5">(0,5; 5)</text>
<text x="649.8" y="1553.5">(0,5; 5)</text>
<text x="793.1" y="1553.5">(0,5; 5)</text>
<text x="936.6" y="1553.5">(0,5; 5)</text>
<text x="1079.9" y="1553.5">(0,5; 5)</text>
</g>
</g>
<g style="font-family:'Liberation Sans',sans-serif" fill="#1e1e1e">
<text x="148.3" y="132.6" font-size="20.83" font-weight="700">ГОСТ Р 70682—2023</text>
<text x="650" y="831.6" font-size="18.75" text-anchor="middle">Рисунок И.1 — Этап 1 — моделирование скорости линейного изменения давления</text>
<text x="650" y="1322.5" font-size="18.75" text-anchor="middle">Рисунок И.2 — Типичное изменение давления и массового расхода</text>
<text x="148.3" y="1369" font-size="18.75"><tspan letter-spacing="4.15">Таблица</tspan> <tspan dx="0"> И.1 — Условия, принятые для моделирования процесса заправки</tspan></text>
<text x="148.3" y="1601" font-size="18.75">128</text>
</g>
</svg>
</body>
</html>
